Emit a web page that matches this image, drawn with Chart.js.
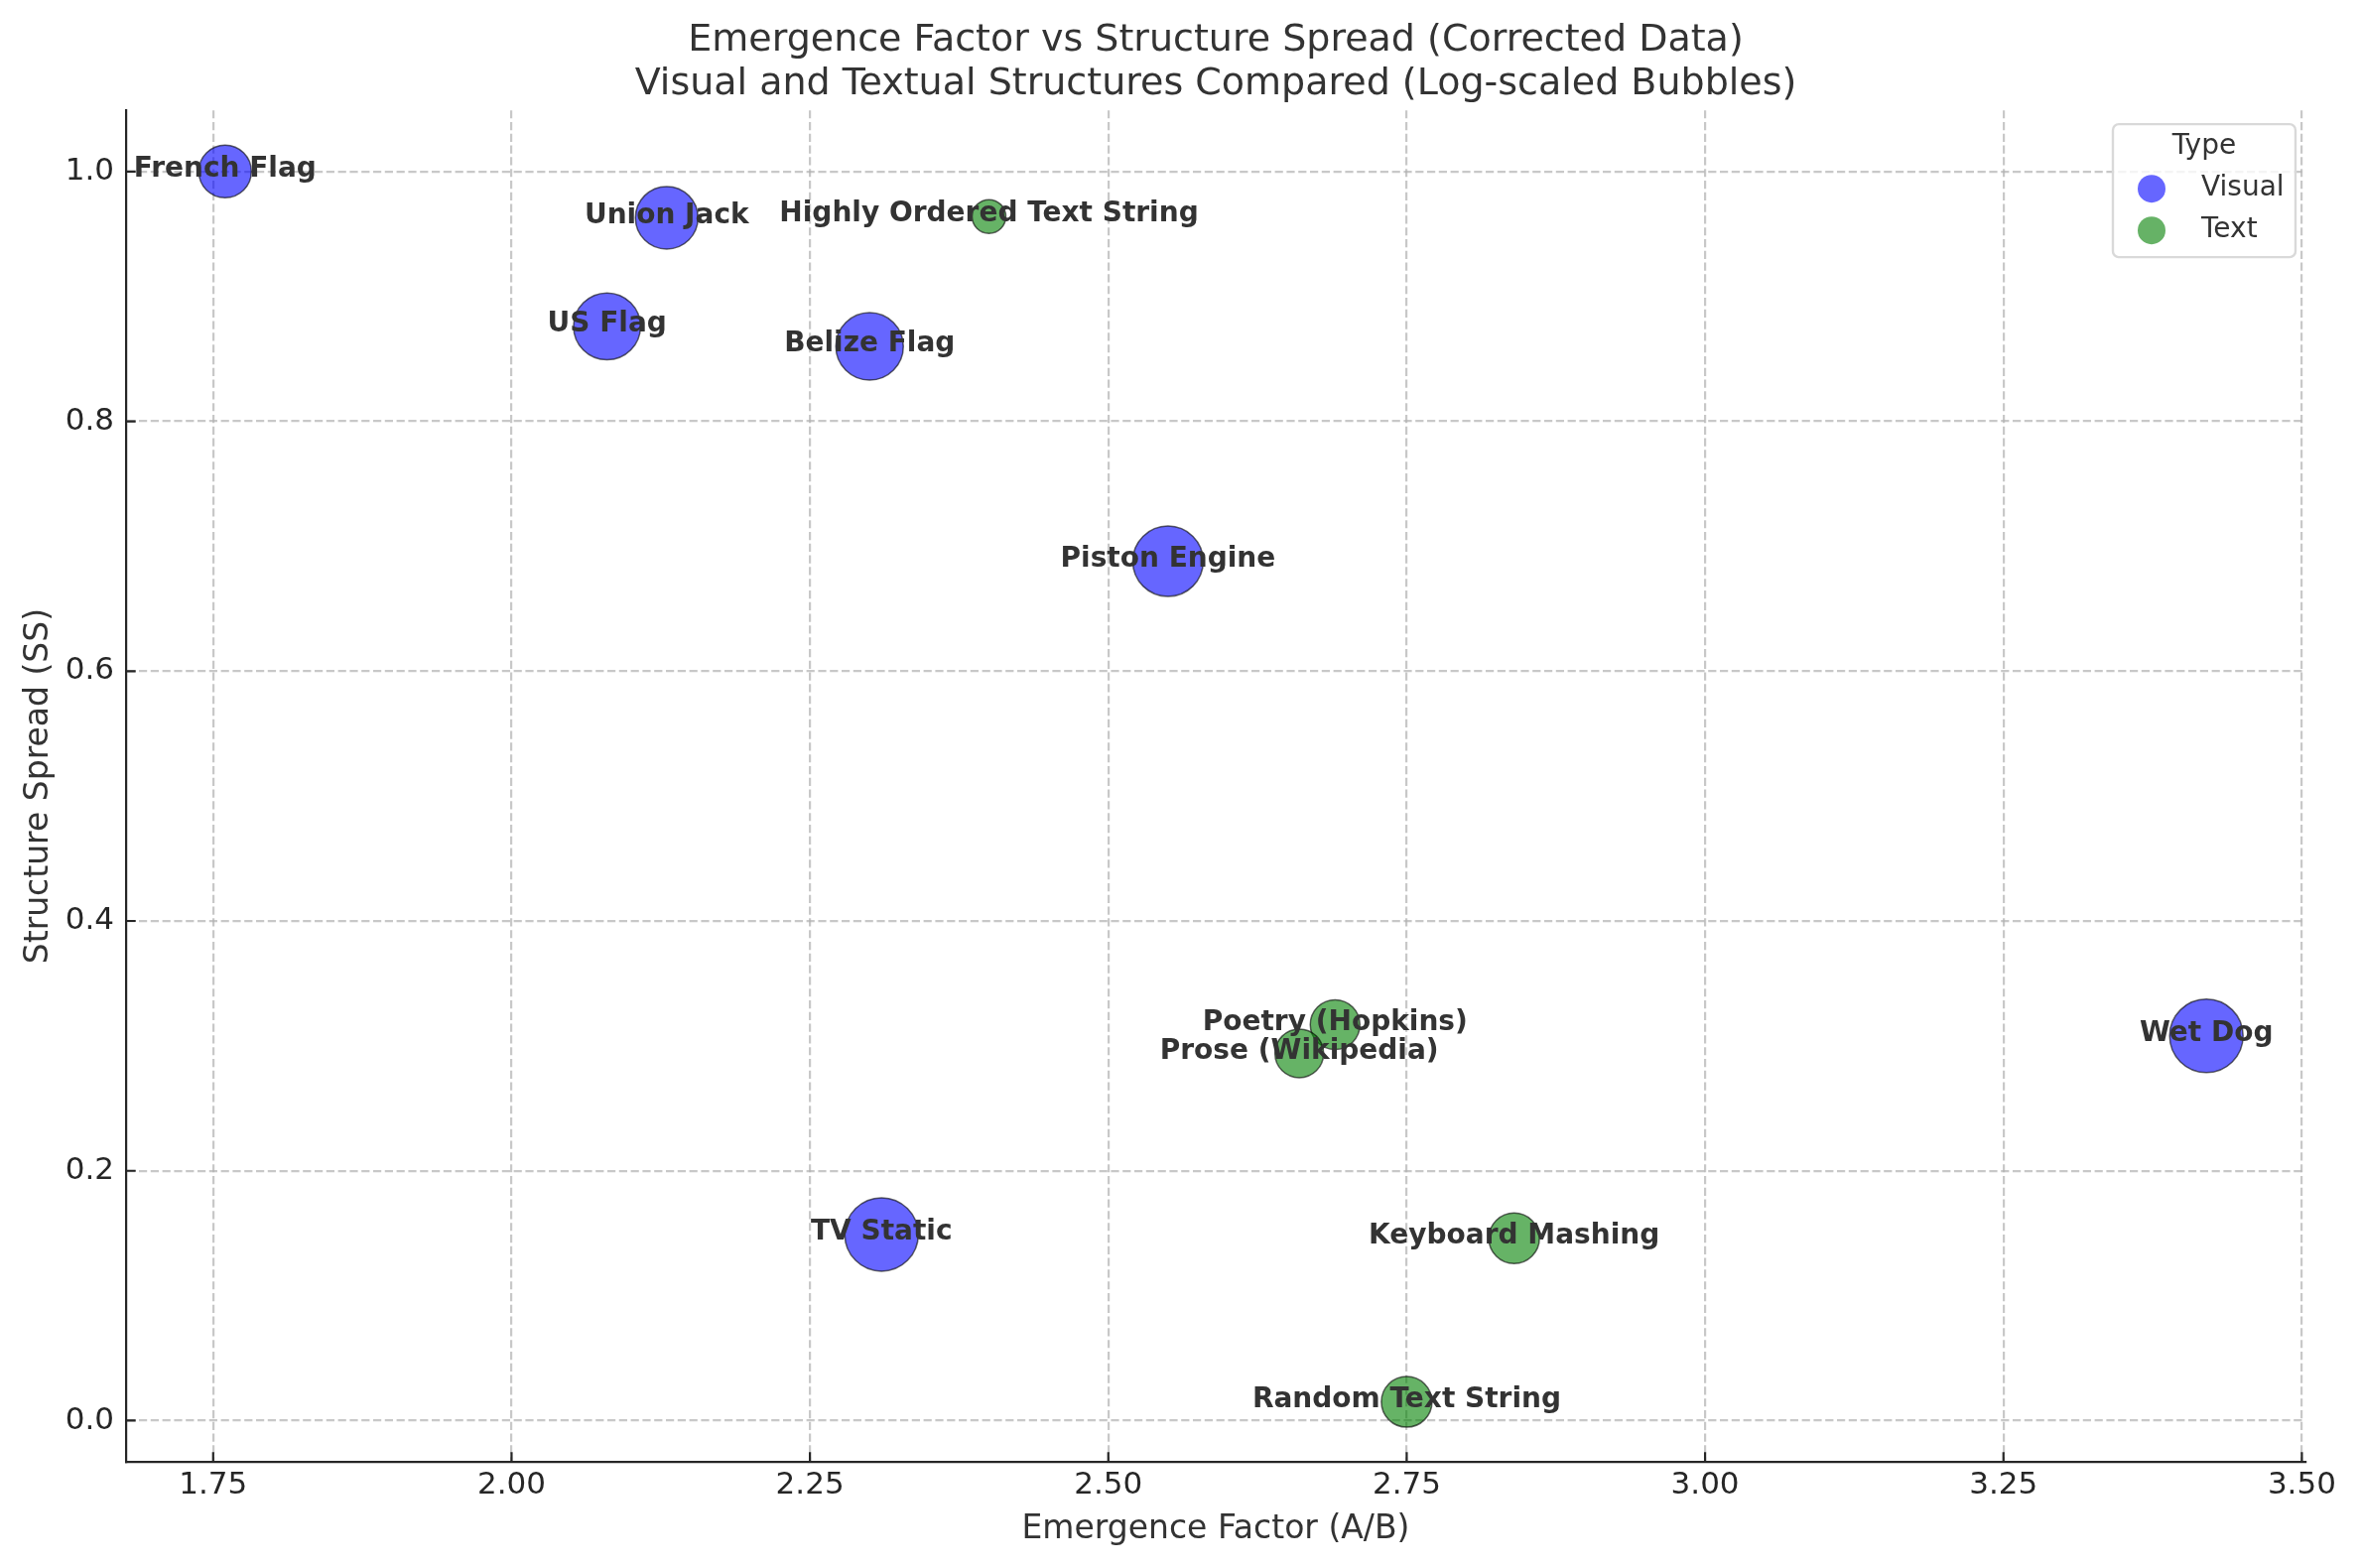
<!DOCTYPE html>
<html>
<head>
<meta charset="utf-8">
<script src="https://cdn.jsdelivr.net/npm/chart.js@4.4.0/dist/chart.umd.min.js"></script>
<style>
  html, body { margin: 0; padding: 0; background: #fff; }
</style>
</head>
<body>
<canvas id="myChart" width="2379" height="1580"></canvas>
<script>
// values
var names = ['French Flag', 'Union Jack', 'US Flag', 'Belize Flag', 'Piston Engine', 'TV Static', 'Wet Dog',
  'Highly Ordered Text String', 'Poetry (Hopkins)', 'Prose (Wikipedia)', 'Keyboard Mashing', 'Random Text String'];
var types = ['Visual', 'Visual', 'Visual', 'Visual', 'Visual', 'Visual', 'Visual',
  'Text', 'Text', 'Text', 'Text', 'Text'];
var emergence = [1.76, 2.13, 2.08, 2.30, 2.55, 2.31, 3.42, 2.40, 2.69, 2.66, 2.84, 2.75];
var spread = [1.00, 0.963, 0.876, 0.860, 0.688, 0.149, 0.308, 0.964, 0.317, 0.294, 0.146, 0.015];
var logSize = [2.65, 3.15, 3.37, 3.4, 3.55, 3.7, 3.7, 1.7, 2.5, 2.45, 2.55, 2.55];
var typeNames = ['Visual', 'Text'];
var xTicks = [1.75, 2.00, 2.25, 2.50, 2.75, 3.00, 3.25, 3.50];
var yTicks = [0.0, 0.2, 0.4, 0.6, 0.8, 1.0];

var fills = { Visual: 'rgba(0, 0, 255, 0.6)', Text: 'rgba(0, 128, 0, 0.6)' };
var solid = { Visual: '#6666ff', Text: '#66b266' };
var FONT = "'DejaVu Sans', sans-serif";
var radiusScale = 10;

var datasets = typeNames.map(function (t) {
  var pts = [];
  for (var i = 0; i < names.length; i++) {
    if (types[i] === t) {
      pts.push({ x: emergence[i], y: spread[i], r: logSize[i] * radiusScale, name: names[i] });
    }
  }
  return {
    label: t,
    data: pts,
    backgroundColor: fills[t],
    borderColor: 'rgba(0, 0, 0, 0.6)',
    borderWidth: 1.5
  };
});

// bold name on top of every bubble
var pointLabels = {
  id: 'pointLabels',
  afterDatasetsDraw: function (chart) {
    var ctx = chart.ctx;
    ctx.save();
    ctx.font = 'bold 28px ' + FONT;
    ctx.fillStyle = '#333333';
    ctx.textAlign = 'center';
    ctx.textBaseline = 'middle';
    chart.data.datasets.forEach(function (ds, di) {
      chart.getDatasetMeta(di).data.forEach(function (el, j) {
        ctx.fillText(ds.data[j].name, el.x, el.y - 2);
      });
    });
    ctx.restore();
  }
};

// inward tick marks like the original
var innerTicks = {
  id: 'innerTicks',
  afterDraw: function (chart) {
    var ctx = chart.ctx, a = chart.chartArea;
    var xs = chart.scales.x, ys = chart.scales.y;
    ctx.save();
    ctx.strokeStyle = '#262626';
    ctx.lineWidth = 2.2;
    ctx.beginPath();
    xTicks.forEach(function (v) {
      var px = xs.getPixelForValue(v);
      ctx.moveTo(px, a.bottom);
      ctx.lineTo(px, a.bottom - 9.7);
    });
    yTicks.forEach(function (v) {
      var py = ys.getPixelForValue(v);
      ctx.moveTo(a.left, py);
      ctx.lineTo(a.left + 9.7, py);
    });
    ctx.stroke();
    ctx.restore();
  }
};

// legend box with title, top right inside the plot
var typeLegend = {
  id: 'typeLegend',
  afterDraw: function (chart) {
    var ctx = chart.ctx, a = chart.chartArea;
    var w = 184, h = 134;
    var x0 = a.right - 10 - w, y0 = a.top + 14;
    ctx.save();
    ctx.beginPath();
    ctx.roundRect(x0, y0, w, h, 6);
    ctx.fillStyle = 'rgba(255, 255, 255, 0.8)';
    ctx.fill();
    ctx.strokeStyle = '#d9d9d9';
    ctx.lineWidth = 2.4;
    ctx.stroke();
    ctx.font = '28px ' + FONT;
    ctx.fillStyle = '#333333';
    ctx.textBaseline = 'middle';
    ctx.textAlign = 'center';
    ctx.fillText('Type', x0 + w / 2, y0 + 23);
    typeNames.forEach(function (t, i) {
      var cy = y0 + 65 + i * 42;
      ctx.beginPath();
      ctx.arc(x0 + 39, cy, 14, 0, Math.PI * 2);
      ctx.fillStyle = solid[t];
      ctx.fill();
      ctx.fillStyle = '#333333';
      ctx.textAlign = 'left';
      ctx.fillText(t, x0 + 89, cy);
    });
    ctx.restore();
  }
};

var gridStyle = { color: 'rgba(176, 176, 176, 0.7)', lineWidth: 2.2, drawTicks: false };
var borderStyle = { display: true, color: '#262626', width: 2.2, dash: [8.2, 3.6] };

var config = {
  type: 'bubble',
  data: { datasets: datasets },
  options: {
    responsive: false,
    devicePixelRatio: 1,
    animation: false,
    events: [],
    layout: { padding: { left: 0, right: 56, top: 0, bottom: 0 } },
    plugins: {
      legend: { display: false },
      tooltip: { enabled: false },
      title: {
        display: true,
        fullSize: false,
        text: ['Emergence Factor vs Structure Spread (Corrected Data)',
          'Visual and Textual Structures Compared (Log-scaled Bubbles)'],
        color: '#333333',
        font: { family: FONT, size: 38, weight: 'normal', lineHeight: 1.16 },
        padding: { top: 19, bottom: 4 }
      }
    },
    scales: {
      x: {
        type: 'linear',
        min: 1.677,
        max: 3.503,
        afterBuildTicks: function (axis) {
          axis.ticks = xTicks.map(function (v) { return { value: v }; });
        },
        afterFit: function (axis) { axis.height = 107; },
        grid: gridStyle,
        border: borderStyle,
        ticks: {
          padding: 5,
          color: '#262626',
          font: { family: FONT, size: 31 },
          callback: function (v) { return v.toFixed(2); }
        },
        title: {
          display: true,
          text: 'Emergence Factor (A/B)',
          color: '#333333',
          font: { family: FONT, size: 33 },
          padding: { top: 0, bottom: 19 }
        }
      },
      y: {
        type: 'linear',
        min: -0.033,
        max: 1.049,
        afterBuildTicks: function (axis) {
          axis.ticks = yTicks.map(function (v) { return { value: v }; });
        },
        afterFit: function (axis) { axis.width = 127; },
        grid: gridStyle,
        border: borderStyle,
        ticks: {
          padding: 12,
          color: '#262626',
          font: { family: FONT, size: 31 },
          callback: function (v) { return v.toFixed(1); }
        },
        title: {
          display: true,
          text: 'Structure Spread (SS)',
          color: '#333333',
          font: { family: FONT, size: 33 },
          padding: { top: 20, bottom: 0 }
        }
      }
    }
  },
  plugins: [pointLabels, innerTicks, typeLegend]
};

var myChart = new Chart(document.getElementById('myChart'), config);
</script>
</body>
</html>
